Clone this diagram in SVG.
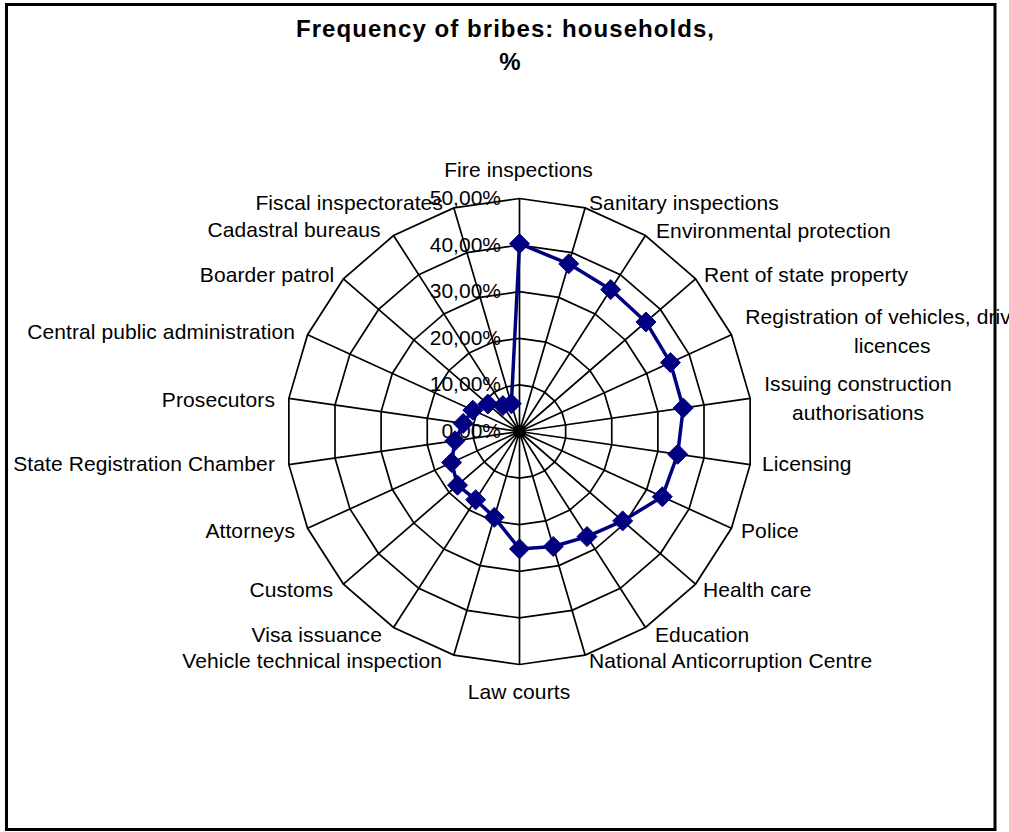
<svg xmlns="http://www.w3.org/2000/svg" xmlns:xlink="http://www.w3.org/1999/xlink" width="1009" height="832" viewBox="0 0 1009 832">
<style>
.lbl{font-family:"Liberation Sans",Arial,sans-serif;font-size:21px;fill:#000;letter-spacing:0.1px}
.tick{font-family:"Liberation Sans",Arial,sans-serif;font-size:21px;fill:#000;text-anchor:end}
.title{font-family:"Liberation Sans",Arial,sans-serif;font-size:24px;font-weight:bold;fill:#000;text-anchor:middle}
.grid{fill:none;stroke:#000;stroke-width:1.7;stroke-linejoin:miter}
.series{fill:none;stroke:#000080;stroke-width:3.5;stroke-linejoin:round}
.mk{fill:#000080;stroke:#000080;stroke-width:1}
.s{text-anchor:start}.e{text-anchor:end}.m{text-anchor:middle}
</style>
<defs>
<polygon id="ring" vector-effect="non-scaling-stroke" points="0,-233 65.64,-223.56 125.97,-196.01 176.09,-152.58 211.94,-96.79 230.63,-33.16 230.63,33.16 211.94,96.79 176.09,152.58 125.97,196.01 65.64,223.56 0,233 -65.64,223.56 -125.97,196.01 -176.09,152.58 -211.94,96.79 -230.63,33.16 -230.63,-33.16 -211.94,-96.79 -176.09,-152.58 -125.97,-196.01 -65.64,-223.56"/>
<path id="dm" d="M0,-10L10,0L0,10L-10,0Z"/>
</defs>
<rect width="1009" height="832" fill="#fff"/>
<g id="title">
<text class="title" x="505" y="37" textLength="418" lengthAdjust="spacing">Frequency of bribes: households,</text>
<text class="title" x="510" y="70">%</text>
</g>
<g id="grid" transform="translate(519.5,431.5)">
<use href="#ring" class="grid"/>
<use href="#ring" class="grid" transform="scale(0.8)"/>
<use href="#ring" class="grid" transform="scale(0.6)"/>
<use href="#ring" class="grid" transform="scale(0.4)"/>
<use href="#ring" class="grid" transform="scale(0.2)"/>
<path class="grid" d="M0,0L0,-233M0,0L65.64,-223.56M0,0L125.97,-196.01M0,0L176.09,-152.58M0,0L211.94,-96.79M0,0L230.63,-33.16M0,0L230.63,33.16M0,0L211.94,96.79M0,0L176.09,152.58M0,0L125.97,196.01M0,0L65.64,223.56M0,0L0,233M0,0L-65.64,223.56M0,0L-125.97,196.01M0,0L-176.09,152.58M0,0L-211.94,96.79M0,0L-230.63,33.16M0,0L-230.63,-33.16M0,0L-211.94,-96.79M0,0L-176.09,-152.58M0,0L-125.97,-196.01M0,0L-65.64,-223.56"/>
</g>
<g id="axis-labels">
<text class="tick" x="501" y="205">50,00%</text>
<text class="tick" x="501" y="251.6">40,00%</text>
<text class="tick" x="501" y="298.2">30,00%</text>
<text class="tick" x="501" y="344.8">20,00%</text>
<text class="tick" x="501" y="391.4">10,00%</text>
<text class="tick" x="501" y="438">0,00%</text>
</g>
<g id="series" transform="translate(519.5,431.5)">
<polygon class="series" points="0,-187.8 49.23,-167.67 91.2,-141.92 126.44,-109.56 150.91,-68.92 163.72,-23.54 158.17,22.74 142.81,65.22 103.16,89.39 67.53,105.07 33.75,114.95 0,117.4 -25.21,85.87 -43.85,68.23 -61.97,53.7 -67.86,30.99 -64.54,9.28 -56.32,-8.1 -46.66,-21.31 -31.67,-27.44 -16.65,-25.91 -8.14,-27.73"/>
<use href="#dm" class="mk" x="0" y="-187.8"/>
<use href="#dm" class="mk" x="49.23" y="-167.67"/>
<use href="#dm" class="mk" x="91.2" y="-141.92"/>
<use href="#dm" class="mk" x="126.44" y="-109.56"/>
<use href="#dm" class="mk" x="150.91" y="-68.92"/>
<use href="#dm" class="mk" x="163.72" y="-23.54"/>
<use href="#dm" class="mk" x="158.17" y="22.74"/>
<use href="#dm" class="mk" x="142.81" y="65.22"/>
<use href="#dm" class="mk" x="103.16" y="89.39"/>
<use href="#dm" class="mk" x="67.53" y="105.07"/>
<use href="#dm" class="mk" x="33.75" y="114.95"/>
<use href="#dm" class="mk" x="0" y="117.4"/>
<use href="#dm" class="mk" x="-25.21" y="85.87"/>
<use href="#dm" class="mk" x="-43.85" y="68.23"/>
<use href="#dm" class="mk" x="-61.97" y="53.7"/>
<use href="#dm" class="mk" x="-67.86" y="30.99"/>
<use href="#dm" class="mk" x="-64.54" y="9.28"/>
<use href="#dm" class="mk" x="-56.32" y="-8.1"/>
<use href="#dm" class="mk" x="-46.66" y="-21.31"/>
<use href="#dm" class="mk" x="-31.67" y="-27.44"/>
<use href="#dm" class="mk" x="-16.65" y="-25.91"/>
<use href="#dm" class="mk" x="-8.14" y="-27.73"/>
</g>
<g id="category-labels">
<g id="cat-fire"><text class="lbl m" x="518.5" y="177">Fire inspections</text></g>
<g id="cat-sanitary"><text class="lbl s" x="589" y="209.5">Sanitary inspections</text></g>
<g id="cat-environment"><text class="lbl s" x="656" y="237.5">Environmental protection</text></g>
<g id="cat-rent"><text class="lbl s" x="704" y="281.5">Rent of state property</text></g>
<g id="cat-registration"><text class="lbl m" x="892.3" y="323.5">Registration of vehicles, driving</text><text class="lbl m" x="892.3" y="352.7">licences</text></g>
<g id="cat-construction"><text class="lbl m" x="858" y="390.7">Issuing construction</text><text class="lbl m" x="858" y="420">authorisations</text></g>
<g id="cat-licensing"><text class="lbl s" x="762" y="471">Licensing</text></g>
<g id="cat-police"><text class="lbl s" x="741" y="538">Police</text></g>
<g id="cat-health"><text class="lbl s" x="703" y="597">Health care</text></g>
<g id="cat-education"><text class="lbl s" x="655" y="642">Education</text></g>
<g id="cat-nac"><text class="lbl s" x="589" y="668">National Anticorruption Centre</text></g>
<g id="cat-courts"><text class="lbl m" x="519" y="699">Law courts</text></g>
<g id="cat-vti"><text class="lbl e" x="442" y="668">Vehicle technical inspection</text></g>
<g id="cat-visa"><text class="lbl e" x="382" y="642">Visa issuance</text></g>
<g id="cat-customs"><text class="lbl e" x="333" y="597">Customs</text></g>
<g id="cat-attorneys"><text class="lbl e" x="295" y="538">Attorneys</text></g>
<g id="cat-src"><text class="lbl e" x="275" y="470.7">State Registration Chamber</text></g>
<g id="cat-prosecutors"><text class="lbl e" x="275" y="407.3">Prosecutors</text></g>
<g id="cat-cpa"><text class="lbl e" x="295" y="339.3">Central public administration</text></g>
<g id="cat-border"><text class="lbl e" x="334.3" y="281.7">Boarder patrol</text></g>
<g id="cat-cadastral"><text class="lbl e" x="380.7" y="237.3">Cadastral bureaus</text></g>
<g id="cat-fiscal"><text class="lbl e" x="443" y="210">Fiscal inspectorates</text></g>
</g>
<rect id="frame" x="6.5" y="4.5" width="988.5" height="825" fill="none" stroke="#000" stroke-width="3"/>
</svg>
